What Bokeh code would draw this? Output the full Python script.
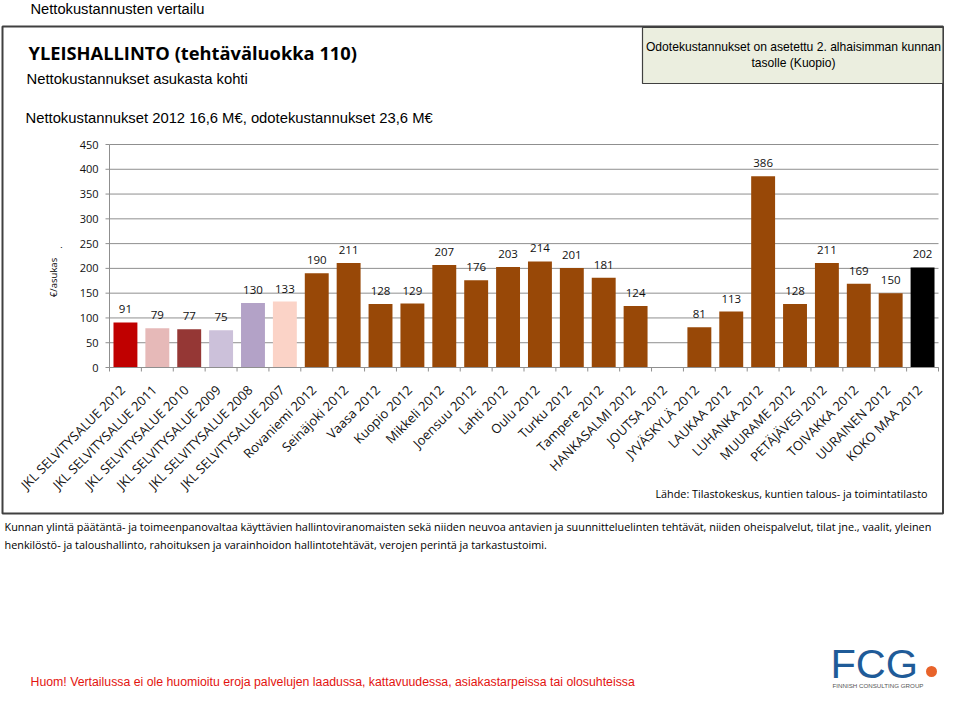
from math import pi
from bokeh.plotting import figure
from bokeh.models import Range1d
from bokeh.core.properties import value
from bokeh.embed import file_html
from bokeh.resources import INLINE

# ---------------- data ----------------
categories = [
    "JKL SELVITYSALUE 2012", "JKL SELVITYSALUE 2011", "JKL SELVITYSALUE 2010",
    "JKL SELVITYSALUE 2009", "JKL SELVITYSALUE 2008", "JKL SELVITYSALUE 2007",
    "Rovaniemi 2012", "Seinäjoki 2012", "Vaasa 2012", "Kuopio 2012", "Mikkeli 2012",
    "Joensuu 2012", "Lahti 2012", "Oulu 2012", "Turku 2012", "Tampere 2012",
    "HANKASALMI 2012", "JOUTSA 2012", "JYVÄSKYLÄ 2012", "LAUKAA 2012", "LUHANKA 2012",
    "MUURAME 2012", "PETÄJÄVESI 2012", "TOIVAKKA 2012", "UURAINEN 2012", "KOKO MAA 2012",
]
values = [91, 79, 77, 75, 130, 133, 190, 211, 128, 129, 207, 176, 203, 214, 201, 181,
          124, 1, 81, 113, 386, 128, 211, 169, 150, 202]
value_labels = ["91", "79", "77", "75", "130", "133", "190", "211", "128", "129", "207",
                "176", "203", "214", "201", "181", "124", "", "81", "113", "386", "128",
                "211", "169", "150", "202"]
bar_colors = ["#c00000", "#e6b9b8", "#953735", "#ccc1da", "#b3a2c7", "#fbd3c7"] + \
             ["#984807"] * 19 + ["#000000"]
y_ticks = [0, 50, 100, 150, 200, 250, 300, 350, 400, 450]
y_tick_labels = ["0", "50", "100", "150", "200", "250", "300", "350", "400", "450"]

page_title = "Nettokustannusten vertailu"
main_title = "YLEISHALLINTO (tehtäväluokka 110)"
subtitle = "Nettokustannukset asukasta kohti"
summary = "Nettokustannukset 2012 16,6 M€, odotekustannukset 23,6 M€"
note_lines = ["Odotekustannukset on asetettu 2. alhaisimman kunnan", "tasolle (Kuopio)"]
y_label = "€/asukas"
source_text = "Lähde: Tilastokeskus, kuntien talous- ja toimintatilasto"
desc_lines = [
    "Kunnan ylintä päätäntä- ja toimeenpanovaltaa käyttävien hallintoviranomaisten sekä niiden neuvoa antavien ja suunnitteluelinten tehtävät, niiden oheispalvelut, tilat jne., vaalit, yleinen",
    "henkilöstö- ja taloushallinto, rahoituksen ja varainhoidon hallintotehtävät, verojen perintä ja tarkastustoimi.",
]
warning = "Huom! Vertailussa ei ole huomioitu eroja palvelujen laadussa, kattavuudessa, asiakastarpeissa tai olosuhteissa"

# ---------------- layout (page pixel geometry) ----------------
W, H = 944, 690
FL, FR, FT, FB = 109, 938, 144, 367    # chart plotting area in page pixels
YMAX = 450
n = len(categories)
px_per_cat = (FR - FL) / n
px_per_val = (FB - FT) / YMAX
x_pos = [i + 0.5 for i in range(n)]    # category centres on the category scale
edges = list(range(n + 1))             # category boundaries

# Page-pixel coordinate system for the whole canvas; chart scales mapped onto it
p = figure(width=W, height=H, x_range=Range1d(0, W), y_range=Range1d(H, 0),
           output_backend="svg", toolbar_location=None,
           x_axis_location=None, y_axis_location=None, min_border=0)
p.outline_line_color = None
p.background_fill_color = "white"
p.border_fill_color = "white"
p.grid.visible = False
p.extra_x_ranges = {"cat": Range1d(-FL / px_per_cat, (W - FL) / px_per_cat)}
p.extra_y_ranges = {"val": Range1d((FB - H) / px_per_val, FB / px_per_val)}

GRID = "#8f8f8f"
TXT = "#111111"
NUM_FONT = "Open Sans"


def txt(s, rx, ry, size, font="Liberation Sans", color="#000000", align="left",
        baseline="middle", style="normal", angle=0.0):
    p.text(x=[rx], y=[ry], text=[s], text_font=value(font), text_font_size=f"{size}px",
           text_color=color, text_align=align, text_baseline=baseline,
           text_font_style=style, angle=angle)


# ---- boxes ----
p.quad(left=[2], right=[942.5], top=[26], bottom=[513], fill_color=None,
       line_color="#404040", line_width=2)
p.quad(left=[642], right=[942.5], top=[27], bottom=[83], fill_color="#ebeedf",
       line_color="#404040", line_width=1.2)

# ---- chart: grid, bars, axes ----
p.segment(x0=0, x1=n, y0=y_ticks, y1=y_ticks, x_range_name="cat", y_range_name="val",
          line_color=GRID, line_width=1)
p.vbar(x=x_pos, top=values, bottom=0, width=0.75, fill_color=bar_colors, line_color=None,
       x_range_name="cat", y_range_name="val")
# y axis line and outward ticks
p.segment(x0=[0], x1=[0], y0=[y_ticks[0]], y1=[y_ticks[-1]], x_range_name="cat",
          y_range_name="val", line_color=GRID, line_width=1)
p.segment(x0=FL - 4, x1=FL, y0=y_ticks, y1=y_ticks, y_range_name="val",
          line_color=GRID, line_width=1)
p.text(x=FL - 11, y=y_ticks, text=y_tick_labels, y_range_name="val",
       text_font=value(NUM_FONT), text_font_size="11px", text_color=TXT,
       text_align="right", text_baseline="middle")
# x axis line, boundary ticks, rotated category labels
p.segment(x0=[0], x1=[n], y0=[0], y1=[0], x_range_name="cat", y_range_name="val",
          line_color=GRID, line_width=1)
p.segment(x0=edges, x1=edges, y0=FB, y1=FB + 4, x_range_name="cat",
          line_color=GRID, line_width=1)
p.text(x=x_pos, y=[0] * n, text=categories, x_range_name="cat", y_range_name="val",
       angle=pi / 4, text_align="right", text_baseline="middle", x_offset=-3, y_offset=20,
       text_font=value(NUM_FONT), text_font_size="13px", text_color=TXT)
# data labels
p.text(x=x_pos, y=values, text=value_labels, x_range_name="cat", y_range_name="val",
       text_align="center", text_baseline="middle", y_offset=-13,
       text_font=value(NUM_FONT), text_font_size="11.5px", text_color=TXT)

# ---- texts ----
txt(page_title, 30, 8.5, 14.7)
txt(main_title, 28, 51.5, 18.3, font="Open Sans", style="bold")
txt(subtitle, 26, 78, 14.8)
txt(summary, 25, 117.3, 14.8)
txt(note_lines[0], 793, 46.7, 12.1, align="center")
txt(note_lines[1], 793, 62, 12.1, align="center")

txt(y_label, 53, 277, 9.5, font="Open Sans", align="center", angle=pi / 2)
txt(".", 58, 247, 9.5, font="Open Sans", align="center", angle=pi / 2)

txt(source_text, 927, 493, 10.8, font="Open Sans", align="right")
txt(desc_lines[0], 4, 526, 10.85, font="Open Sans")
txt(desc_lines[1], 4, 544, 10.85, font="Open Sans")
txt(warning, 30, 681, 12.3, color="#e3140f")

# ---- logo ----
txt("FCG", 830, 663, 41.5, color="#1f5b98")
p.scatter(x=[931], y=[671], size=11, fill_color="#e8632a", line_color=None)
txt("FINNISH CONSULTING GROUP", 832, 685, 6.2, color="#555555")

open("out.html", "w").write(file_html(p, INLINE))
